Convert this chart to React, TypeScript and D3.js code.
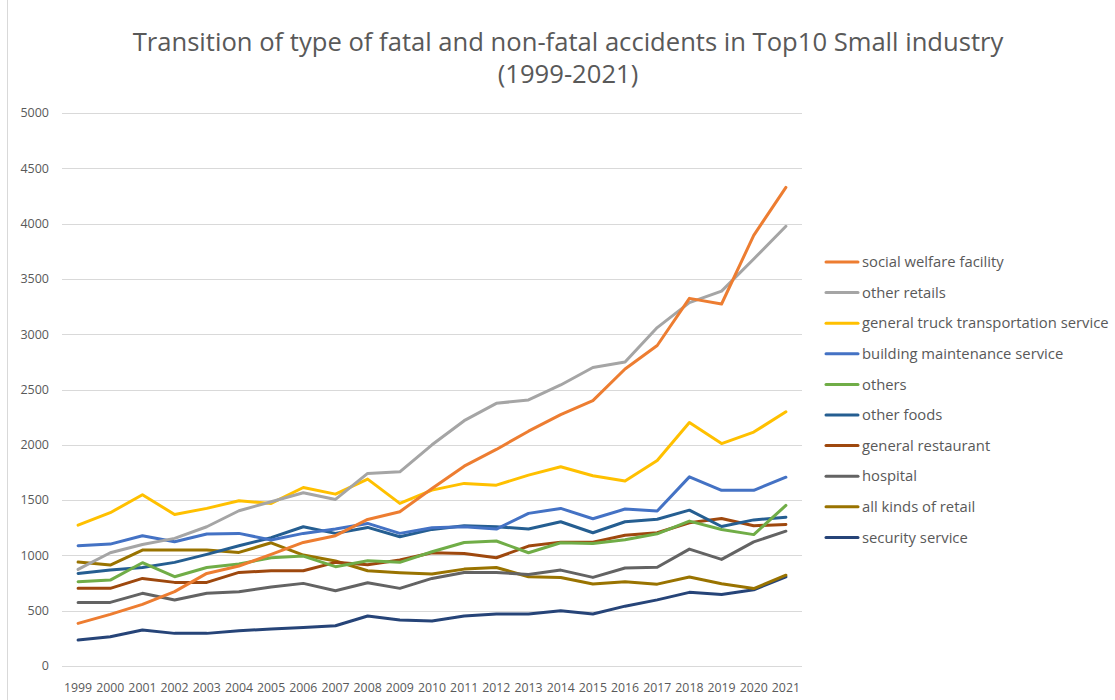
import { useEffect, useRef } from 'react'
import * as d3 from 'd3'

const years = d3.range(1999, 2022).map(String)

const seriesNames = [
	'social welfare facility',
	'other retails',
	'general truck transportation service',
	'building maintenance service',
	'others',
	'other foods',
	'general restaurant',
	'hospital',
	'all kinds of retail',
	'security service',
]

const seriesColors = [
	'#ED7D31',
	'#A5A5A5',
	'#FFC000',
	'#4472C4',
	'#70AD47',
	'#255E91',
	'#9E480E',
	'#636363',
	'#997300',
	'#264478',
]

const socialWelfare = [385, 467, 557, 672, 837, 904, 1009, 1117, 1178, 1325, 1395, 1605, 1807, 1958, 2123, 2273, 2399, 2685, 2898, 3324, 3273, 3894, 4327]
const otherRetails = [873, 1024, 1099, 1154, 1259, 1404, 1485, 1566, 1506, 1741, 1756, 2000, 2218, 2375, 2406, 2541, 2699, 2749, 3060, 3285, 3390, 3680, 3976]
const truckService = [1274, 1386, 1548, 1370, 1425, 1494, 1470, 1614, 1554, 1690, 1470, 1590, 1651, 1635, 1726, 1801, 1720, 1672, 1858, 2201, 2011, 2115, 2298]
const buildingMaint = [1087, 1102, 1178, 1123, 1193, 1199, 1139, 1199, 1238, 1289, 1199, 1250, 1259, 1238, 1380, 1425, 1331, 1419, 1401, 1710, 1588, 1588, 1707]
const others = [762, 777, 934, 807, 891, 922, 979, 994, 898, 952, 937, 1033, 1117, 1130, 1024, 1114, 1108, 1142, 1195, 1310, 1234, 1188, 1452]
const otherFoods = [837, 867, 891, 937, 1009, 1087, 1160, 1259, 1199, 1253, 1169, 1235, 1268, 1259, 1238, 1304, 1205, 1304, 1327, 1409, 1261, 1321, 1345]
const restaurant = [702, 702, 792, 756, 756, 846, 861, 861, 937, 915, 958, 1024, 1018, 979, 1084, 1120, 1120, 1183, 1205, 1295, 1333, 1268, 1279]
const hospital = [575, 575, 657, 596, 657, 672, 714, 747, 681, 753, 702, 792, 846, 846, 828, 867, 801, 886, 893, 1057, 964, 1122, 1219]
const allRetail = [940, 913, 1048, 1048, 1048, 1027, 1114, 1003, 949, 861, 843, 831, 876, 891, 807, 801, 741, 761, 740, 804, 743, 700, 821]
const security = [235, 265, 325, 295, 295, 319, 334, 349, 364, 452, 416, 407, 452, 470, 470, 500, 470, 541, 598, 666, 646, 689, 806]

const seriesValues = [
	socialWelfare,
	otherRetails,
	truckService,
	buildingMaint,
	others,
	otherFoods,
	restaurant,
	hospital,
	allRetail,
	security,
]

const yTicks = [0, 500, 1000, 1500, 2000, 2500, 3000, 3500, 4000, 4500, 5000]

const titleLines = [
	'Transition of type of fatal and non-fatal accidents in Top10 Small industry',
	'(1999-2021)',
]

export default function App() {
	const ref = useRef(null)

	const width = 1115
	const height = 700
	const plot = { left: 62, right: 802, top: 113, bottom: 666 }

	useEffect(() => {
		const svg = d3.select(ref.current)
		svg.selectAll('*').remove()

		const font = '"Open Sans", sans-serif'
		const textColor = '#595959'

		// chart area border (left edge only visible)
		svg
			.append('line')
			.attr('x1', 7.5)
			.attr('x2', 7.5)
			.attr('y1', 0)
			.attr('y2', height)
			.attr('stroke', '#d9d9d9')
			.attr('stroke-width', 1)

		// title
		svg
			.append('g')
			.selectAll('text')
			.data(titleLines)
			.enter()
			.append('text')
			.attr('x', 568)
			.attr('y', (d, i) => 51 + i * 32)
			.attr('text-anchor', 'middle')
			.style('font-family', font)
			.style('font-size', '25.6px')
			.style('fill', textColor)
			.text((d) => d)

		const x = d3
			.scaleBand()
			.domain(years)
			.range([plot.left, plot.right])

		const y = d3
			.scaleLinear()
			.domain([0, 5000])
			.range([plot.bottom, plot.top])

		// gridlines
		svg
			.append('g')
			.selectAll('line')
			.data(yTicks)
			.enter()
			.append('line')
			.attr('x1', plot.left)
			.attr('x2', plot.right)
			.attr('y1', (d) => Math.round(y(d)) + 0.5)
			.attr('y2', (d) => Math.round(y(d)) + 0.5)
			.attr('stroke', '#d9d9d9')
			.attr('stroke-width', 1)

		// y tick labels
		svg
			.append('g')
			.selectAll('text')
			.data(yTicks)
			.enter()
			.append('text')
			.attr('x', 49)
			.attr('y', (d) => y(d))
			.attr('dy', '0.35em')
			.attr('text-anchor', 'end')
			.style('font-family', font)
			.style('font-size', '12.5px')
			.style('fill', textColor)
			.text((d) => d)

		// x tick labels
		svg
			.append('g')
			.selectAll('text')
			.data(years)
			.enter()
			.append('text')
			.attr('x', (d) => (x(d) as number) + x.bandwidth() / 2)
			.attr('y', 692)
			.attr('text-anchor', 'middle')
			.style('font-family', font)
			.style('font-size', '12.3px')
			.style('fill', textColor)
			.text((d) => d)

		const line = d3
			.line<number>()
			.x((d, i) => (x(years[i]) as number) + x.bandwidth() / 2)
			.y((d) => y(d))

		// series lines, drawn last series first so the first sits on top
		svg
			.append('g')
			.selectAll('path')
			.data(seriesValues.map((v, i) => ({ v, i })).reverse())
			.enter()
			.append('path')
			.attr('d', (d) => line(d.v))
			.attr('fill', 'none')
			.attr('stroke', (d) => seriesColors[d.i])
			.attr('stroke-width', 3)
			.attr('stroke-linejoin', 'round')
			.attr('stroke-linecap', 'round')

		// legend
		const legend = svg
			.append('g')
			.selectAll('g')
			.data(seriesNames)
			.enter()
			.append('g')
			.attr('transform', (d, i) => 'translate(826,' + (262 + i * 30.6) + ')')

		legend
			.append('line')
			.attr('x1', 0)
			.attr('x2', 32)
			.attr('stroke', (d, i) => seriesColors[i])
			.attr('stroke-width', 3)
			.attr('stroke-linecap', 'round')

		legend
			.append('text')
			.attr('x', 36)
			.attr('dy', '0.35em')
			.style('font-family', font)
			.style('font-size', '14.8px')
			.style('fill', textColor)
			.text((d) => d)
	}, [])

	return (
		<svg
			ref={ref}
			width={width}
			height={height}
			style={{ position: 'absolute', left: 0, top: 0, background: '#fff' }}
		/>
	)
}
